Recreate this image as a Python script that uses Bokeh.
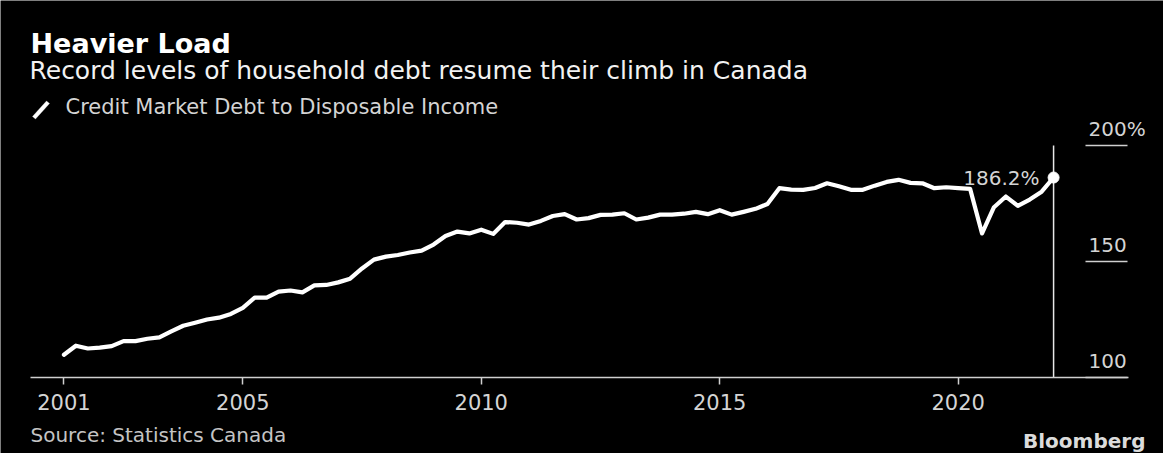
from bokeh.plotting import figure
from bokeh.models import Range1d, FixedTicker, CustomJSTickFormatter, Label, PolyAnnotation
from bokeh.embed import file_html
from bokeh.resources import INLINE

# ---------------- data ----------------
years = list(range(2001, 2022))
quarters = [1, 2, 3, 4]
# Credit market debt to disposable income (%), quarterly 2001Q1 .. 2021Q4
debt_ratio = [
    109.8, 113.7, 112.5, 112.9,   # 2001
    113.5, 115.7, 115.7, 116.7,   # 2002
    117.3, 119.9, 122.3, 123.6,   # 2003
    125.0, 125.8, 127.4, 130.0,   # 2004
    134.4, 134.4, 137.0, 137.5,   # 2005
    136.7, 139.7, 139.9, 141.0,   # 2006
    142.6, 147.0, 150.8, 152.1,   # 2007
    152.8, 153.9, 154.7, 157.3,   # 2008
    161.0, 162.9, 162.1, 163.7,   # 2009
    161.9, 167.0, 166.7, 165.9,   # 2010
    167.5, 169.6, 170.4, 168.1,   # 2011
    168.7, 170.1, 170.2, 170.8,   # 2012
    168.1, 168.9, 170.2, 170.2,   # 2013
    170.6, 171.4, 170.4, 172.1,   # 2014
    170.2, 171.4, 172.7, 174.8,   # 2015
    181.6, 181.0, 180.9, 181.7,   # 2016
    183.7, 182.4, 180.9, 180.9,   # 2017
    182.7, 184.3, 185.2, 183.9,   # 2018
    183.7, 181.6, 182.0, 181.6,   # 2019
    181.3, 162.1, 173.4, 178.0,   # 2020
    174.0, 176.7, 180.1, 186.2,   # 2021
]
# quarter-end positions in decimal years
x_quarter = [y + q / 4 for y in years for q in quarters]

x_tick_values = [2001.25, 2005, 2010, 2015, 2020]
x_tick_labels = ["2001", "2005", "2010", "2015", "2020"]
y_tick_values = [100, 150, 200]
y_tick_labels = ["100", "150", "200%"]

title_text = "Heavier Load"
subtitle_text = "Record levels of household debt resume their climb in Canada"
legend_text = "Credit Market Debt to Disposable Income"
source_text = "Source: Statistics Canada"
brand_text = "Bloomberg"

# ---------------- style ----------------
BG = "#000000"
FONT = "DejaVu Sans"
AX = "#cfcfcf"
LBL = "#d4d4d4"

W, H = 1163, 453

# the frame covers the whole canvas; the axis is pinned at y = 100
p = figure(
    width=W, height=H,
    x_range=Range1d(1999.9196, 2024.3047),
    y_range=Range1d(67.241, 262.5),
    y_axis_location=None,
    toolbar_location=None,
    output_backend="svg",
    min_border=0,
)
p.background_fill_color = BG
p.border_fill_color = BG
p.outline_line_color = None
p.xgrid.visible = False
p.ygrid.visible = False

ax = p.xaxis[0]
ax.fixed_location = y_tick_values[0]
ax.bounds = (2000.548, 2023.575)
ax.ticker = FixedTicker(ticks=x_tick_values)
ax.formatter = CustomJSTickFormatter(
    args=dict(tvals=x_tick_values, tlabs=x_tick_labels),
    code="""
    let best = 0;
    for (let i = 1; i < tvals.length; i++) {
        if (Math.abs(tvals[i] - tick) < Math.abs(tvals[best] - tick)) best = i;
    }
    return tlabs[best];
    """,
)
ax.axis_line_color = AX
ax.axis_line_width = 1.5
ax.major_tick_line_color = AX
ax.major_tick_line_width = 1.5
ax.major_tick_out = 7
ax.major_tick_in = 0
ax.minor_tick_line_color = None
ax.major_label_text_font = FONT
ax.major_label_text_font_size = "21px"
ax.major_label_text_color = LBL
ax.major_label_standoff = 10

# y "gridline" stubs under the right-hand labels
stub_x0 = 2022.669
stub_x1 = 2023.550
p.segment(x0=[stub_x0] * len(y_tick_values), x1=[stub_x1] * len(y_tick_values),
          y0=y_tick_values, y1=y_tick_values, line_color=AX, line_width=1.5)

label_lift = 7.3  # data units between each stub and its label centre
for v, lab in zip(y_tick_values, y_tick_labels):
    p.add_layout(Label(x=stub_x0, y=v + label_lift, x_offset=3,
                       text=lab, text_font=FONT, text_font_size="20px",
                       text_color=LBL, text_align="left",
                       text_baseline="middle"))

# vertical marker at last observation
p.segment(x0=[x_quarter[-1]], x1=[x_quarter[-1]],
          y0=[y_tick_values[0]], y1=[y_tick_values[-1]],
          line_color="#e8e8e8", line_width=1.5)

# the series
line_r = p.line(x_quarter, debt_ratio, line_color="#ffffff", line_width=4.2,
                line_join="round", line_cap="round")
p.scatter([x_quarter[-1]], [debt_ratio[-1]], size=11, fill_color="#ffffff",
          line_color="#ffffff")
p.add_layout(Label(x=x_quarter[-1], y=debt_ratio[-1], x_offset=-14,
                   text=f"{debt_ratio[-1]:.1f}%", text_font=FONT,
                   text_font_size="20px", text_color=LBL,
                   text_align="right", text_baseline="middle"))

# ---------------- header / footer (screen coords, canvas = frame) ----------------
def sx(px):
    return px

def sy(py):
    return H - py

p.add_layout(Label(x=sx(30), y=sy(43), x_units="screen", y_units="screen",
                   text=title_text, text_font=FONT, text_font_size="27px",
                   text_font_style="bold", text_color="#ffffff",
                   text_baseline="middle"))
p.add_layout(Label(x=sx(29), y=sy(70), x_units="screen", y_units="screen",
                   text=subtitle_text, text_font=FONT, text_font_size="25px",
                   text_color="#f2f2f2", text_baseline="middle"))
p.add_layout(PolyAnnotation(
    xs=[sx(32), sx(35), sx(49), sx(46)], ys=[sy(116), sy(118.5), sy(103), sy(100.5)],
    xs_units="screen", ys_units="screen",
    fill_color="#ffffff", fill_alpha=1.0, line_color="#ffffff", line_width=1))
p.add_layout(Label(x=sx(65), y=sy(106), x_units="screen", y_units="screen",
                   text=legend_text, text_font=FONT, text_font_size="21px",
                   text_color=LBL, text_baseline="middle"))
p.add_layout(Label(x=sx(30), y=sy(434), x_units="screen", y_units="screen",
                   text=source_text, text_font=FONT, text_font_size="20px",
                   text_color="#c4c4c4", text_baseline="middle"))
p.add_layout(Label(x=sx(1145), y=sy(440), x_units="screen", y_units="screen",
                   text=brand_text, text_font=FONT, text_font_size="20px",
                   text_font_style="bold", text_color="#dcdcdc",
                   text_align="right", text_baseline="middle"))

open("out.html", "w").write(file_html(p, INLINE))
